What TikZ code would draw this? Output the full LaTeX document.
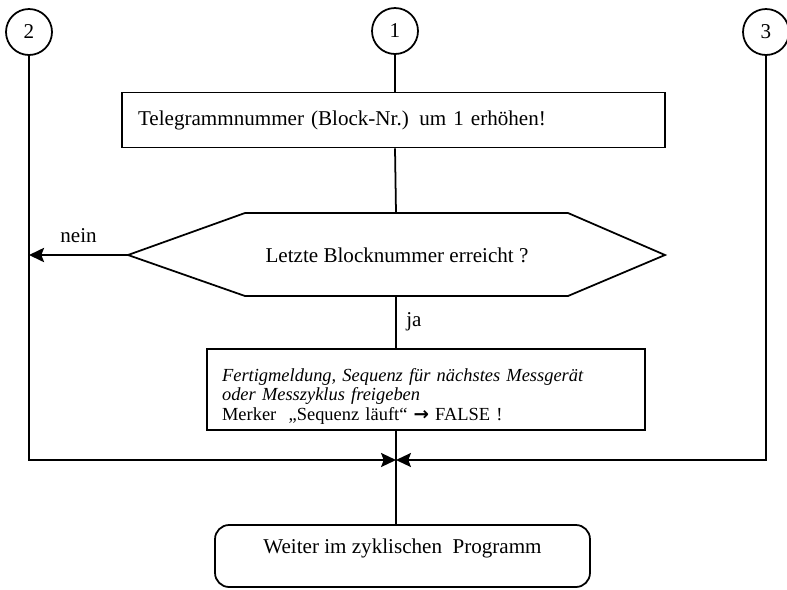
\documentclass[tikz,border=0pt]{standalone}
\usepackage{fontspec}
\setmainfont{Liberation Serif}
\usepackage{tikz}
\usetikzlibrary{arrows.meta}
\newcommand{\mergeLineY}{460}

\tikzset{
	connector/.style={circle,draw=black,line width=1pt,minimum size=0.92cm,inner sep=0pt,font=\fontsize{12}{14}\selectfont},
	flowbox/.style={rectangle,draw=black,line width=1pt,font=\fontsize{12}{14}\selectfont},
	flowline/.style={line width=1pt,draw=black},
	flowarrow/.style={line width=1pt,draw=black,-{Stealth[length=8.5pt,width=8pt,inset=1.5pt]}}
}

\begin{document}
\begin{tikzpicture}[x=0.02cm,y=-0.02cm]
	\useasboundingbox (0,0) rectangle (787,589);

	\node[connector] (C2) at (29,32) {2};
	\node[connector] (C1) at (395,31) {1};
	\node[connector] (C3) at (766,32) {3};

	\node[flowbox,minimum width=10.86cm,minimum height=1.1cm,text width=10.22cm,inner xsep=0.32cm,align=left] (TEL) at (393.5,120) {Telegrammnummer (Block-Nr.) um 1 erh\"ohen!};

	% Entscheidung
	\draw[flowline] (128,255) coordinate (DECW) -- (245,213) coordinate (DECNW) -- (568,213) -- (665,255) -- (568,296) -- (245,296) -- cycle;
	\node[font=\fontsize{12}{14}\selectfont] (DEC) at (397,255) {Letzte Blocknummer erreicht ?};
	\coordinate (DECN) at (396,213);
	\coordinate (DECS) at (396,296);

	\node[flowbox,minimum width=8.76cm,minimum height=1.54cm,text width=8.16cm,inner xsep=0.3cm,align=left,font=\fontsize{10.5}{11.2}\selectfont] (FERTIG) at (426,389.5) {\rule{0pt}{15pt}{\itshape Fertigmeldung, Sequenz f\"ur n\"achstes Messger\"at\\oder Messzyklus freigeben\\}Merker\ \ \char"201E Sequenz l\"auft\char"201C\ {\fontspec{DejaVu Sans}\bfseries\char"2192} FALSE !};

	\node[flowbox,rounded corners=8pt,minimum width=7.5cm,text height=0.46cm,text depth=0.58cm,inner ysep=0.1cm] (WEITER) at (402.5,556) {Weiter im zyklischen\ \ Programm};

	\coordinate (MERGE) at (396,\mergeLineY);

	\draw[flowline] (C1) -- (C1 |- TEL.north);
	\draw[flowline] (C1 |- TEL.south) -- (DECN);
	\draw[flowarrow,line width=1.6pt] (DECW) -- node[above=3pt,font=\fontsize{12}{14}\selectfont] (NEIN) {nein} (C2 |- DECW);
	\draw[flowline] (DECS) -- node[right=2pt,font=\fontsize{12}{14}\selectfont] (JA) {ja} (DECS |- FERTIG.north);
	\draw[flowline] (MERGE |- FERTIG.south) -- (MERGE |- WEITER.north);
	\draw[flowarrow] (C2) -- (C2 |- MERGE) -- (MERGE);
	\draw[flowarrow] (C3) -- (C3 |- MERGE) -- (MERGE);
\end{tikzpicture}
\end{document}
